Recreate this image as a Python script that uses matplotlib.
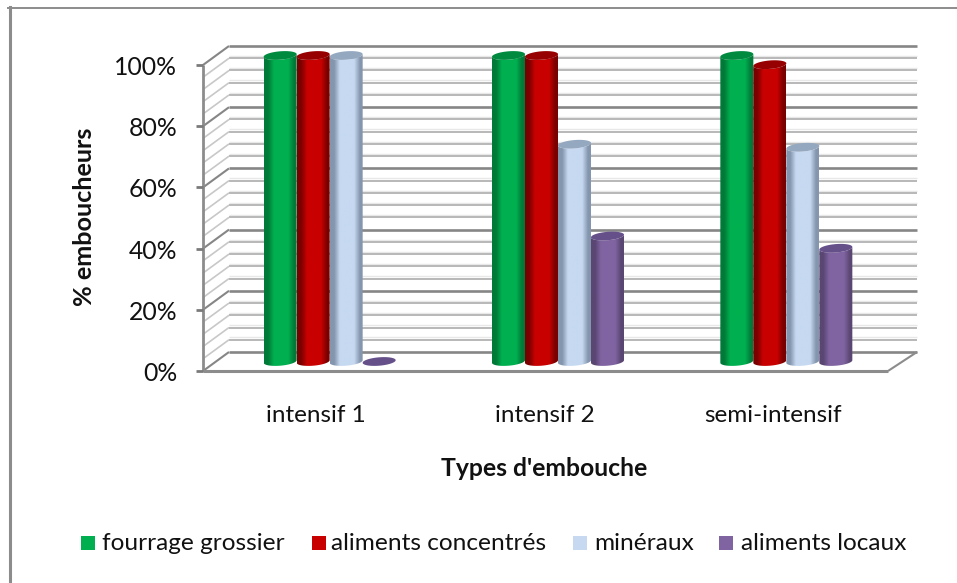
import numpy as np
import matplotlib
matplotlib.use("Agg")
import matplotlib.pyplot as plt
from matplotlib.patches import Polygon, Rectangle
from matplotlib.colors import LinearSegmentedColormap

categories = ["intensif 1", "intensif 2", "semi-intensif"]
series_names = ["fourrage grossier", "aliments concentrés", "minéraux", "aliments locaux"]
fourrage = [100, 100, 100]
concentres = [100, 100, 97]
mineraux = [100, 71, 70]
locaux = [0, 41, 37]
series_values = [fourrage, concentres, mineraux, locaux]
y_ticks = [0, 20, 40, 60, 80, 100]
minor_step = 4

base_colors = ["#00B050", "#C80000", "#C6D9F1", "#8064A2"]
edge_colors = ["#007A38", "#7A0000", "#8496AE", "#5A4672"]
top_colors = ["#008A40", "#960000", "#94A8C0", "#65508A"]
grid_major = "#868686"
grid_minor = "#B8B8B8"

W, H = 957, 583
plt.rcParams["font.family"] = ["Lato", "DejaVu Sans"]
fig = plt.figure(figsize=(W / 100, H / 100), dpi=100, facecolor="white")

# front plane of the 3-D box, in pixels
L, R, T, B = 203, 888, 65, 371
DX, DY = 26, -19
ax = fig.add_axes([L / W, 1 - B / H, (R - L) / W, (B - T) / H])
ax.set_xlim(0, len(categories))
ax.set_ylim(0, 100)
ax.axis("off")
px_x = len(categories) / (R - L)
px_y = 100 / (B - T)


def dx(p):
    return p * px_x


def dy(p):
    return -p * px_y


def line(xs, ys, color, lw, z=1):
    ax.plot(xs, ys, color=color, lw=lw, zorder=z, clip_on=False, solid_capstyle="butt")


x_max = len(categories)
back_x0, back_x1 = dx(DX), x_max + dx(DX) + dx(3)
for v in np.arange(0, 100 + minor_step, minor_step):
    major = v in y_ticks
    col = grid_major if major else grid_minor
    lw = 1.9 if major else 1.4
    yb = v + dy(DY)
    line([back_x0, back_x1], [yb, yb], col, lw)
    if not major:
        line([back_x0, back_x1], [yb + 0.75, yb + 0.75], "#E8E8E8", 1.0, 0.9)
    line([0, back_x0], [v, yb], col if major else "#C8C8C8", 1.5 if major else 1.2)

# front axes lines and ticks
line([0, 0], [0, 100], "#8C8C8C", 2.0, 2)
line([0, x_max], [0, 0], "#8C8C8C", 2.2, 2)
line([x_max, x_max + dx(DX + 3)], [0, dy(DY)], "#8C8C8C", 1.5, 2)
for v in y_ticks:
    line([-dx(7), 0], [v, v], "#7A7A7A", 2.0, 2)

# cylinders
bar_w_px = 33
group_w = 4 * bar_w_px * px_x
bar_w = bar_w_px * px_x
ell_h = 4.2 * px_y
tilt = 1.3 * px_y
t = np.linspace(0, 2 * np.pi, 100)
mid_x = dx(DX / 2) + dx(-0.5)
mid_y = dy(DY / 2)

for s, (vals, col, edge, top) in enumerate(zip(series_values, base_colors, edge_colors, top_colors)):
    cmap = LinearSegmentedColormap.from_list(
        "c", [(0, edge), (0.12, edge), (0.3, col), (0.74, col), (0.92, edge), (1, edge)])
    for i, v in enumerate(vals):
        x0 = i + 0.5 - group_w / 2 + s * bar_w + mid_x
        x1 = x0 + bar_w
        cx = (x0 + x1) / 2
        y0, y1 = mid_y, mid_y + v
        z = 5 + s * 0.1
        ex = cx + bar_w / 2 * np.cos(t)
        if v > 0:
            th = np.linspace(np.pi, 2 * np.pi, 50)
            lower_x = cx + bar_w / 2 * np.cos(th)
            lower_y = y0 + ell_h * np.sin(th) + tilt * np.cos(th)
            upper_x = cx + bar_w / 2 * np.cos(th[::-1])
            upper_y = y1 + ell_h * np.sin(th[::-1]) + tilt * np.cos(th[::-1])
            poly = Polygon(np.column_stack([np.r_[lower_x, upper_x], np.r_[lower_y, upper_y]]),
                           closed=True, fc="none", ec="none", zorder=z, clip_on=False)
            ax.add_patch(poly)
            im = ax.imshow(np.linspace(0, 1, 64)[None, :], cmap=cmap, aspect="auto",
                           extent=[x0, x1, y0 - ell_h * 1.5, y1 + ell_h * 1.5],
                           zorder=z)
            im.set_clip_path(poly)
            im.set_clip_box(fig.bbox)
        ey = y1 + ell_h * np.sin(t) + tilt * np.cos(t)
        ax.add_patch(Polygon(np.column_stack([ex, ey]), closed=True, fc=top, ec="none",
                             zorder=z + 0.01, clip_on=False))
ax.set_xlim(0, len(categories))
ax.set_ylim(0, 100)

# texts
for v in y_ticks:
    ax.text(-dx(26), v + dy(2.5), f"{v}%", ha="right", va="center", fontsize=17.8, color="#111111", clip_on=False)
for i, c in enumerate(categories):
    ax.text(i + 0.5 - dx(1), dy(45), c, ha="center", va="center", fontsize=17.5, color="#111111", clip_on=False)
fig.text(544 / W, 1 - 468 / H, "Types d'embouche", ha="center", va="center", fontsize=17.8, fontweight="bold", color="#111111")
fig.text(84 / W, 1 - 217 / H, "% emboucheurs", rotation=90, ha="center", va="center",
         fontsize=18.2, fontweight="bold", color="#111111")

# legend
leg_x = [81, 312, 573, 719]
txt_x = [102, 331, 594, 741]
for name, col, lx, tx in zip(series_names, base_colors, leg_x, txt_x):
    fig.add_artist(Rectangle((lx / W, 1 - 550 / H), 14 / W, 14 / H, transform=fig.transFigure, fc=col, ec="none"))
    fig.text(tx / W, 1 - 543 / H, name, ha="left", va="center", fontsize=17.6, color="#111111")

# outer frame (left and top only)
fig.add_artist(plt.Line2D([9.5 / W, 9.5 / W], [0, 1 - 7 / H], color="#8C8C8C", lw=2.2))
fig.add_artist(plt.Line2D([8 / W, 957 / W], [1 - 7.5 / H, 1 - 7.5 / H], color="#8C8C8C", lw=1.4))

fig.savefig("out.png", dpi=100)
